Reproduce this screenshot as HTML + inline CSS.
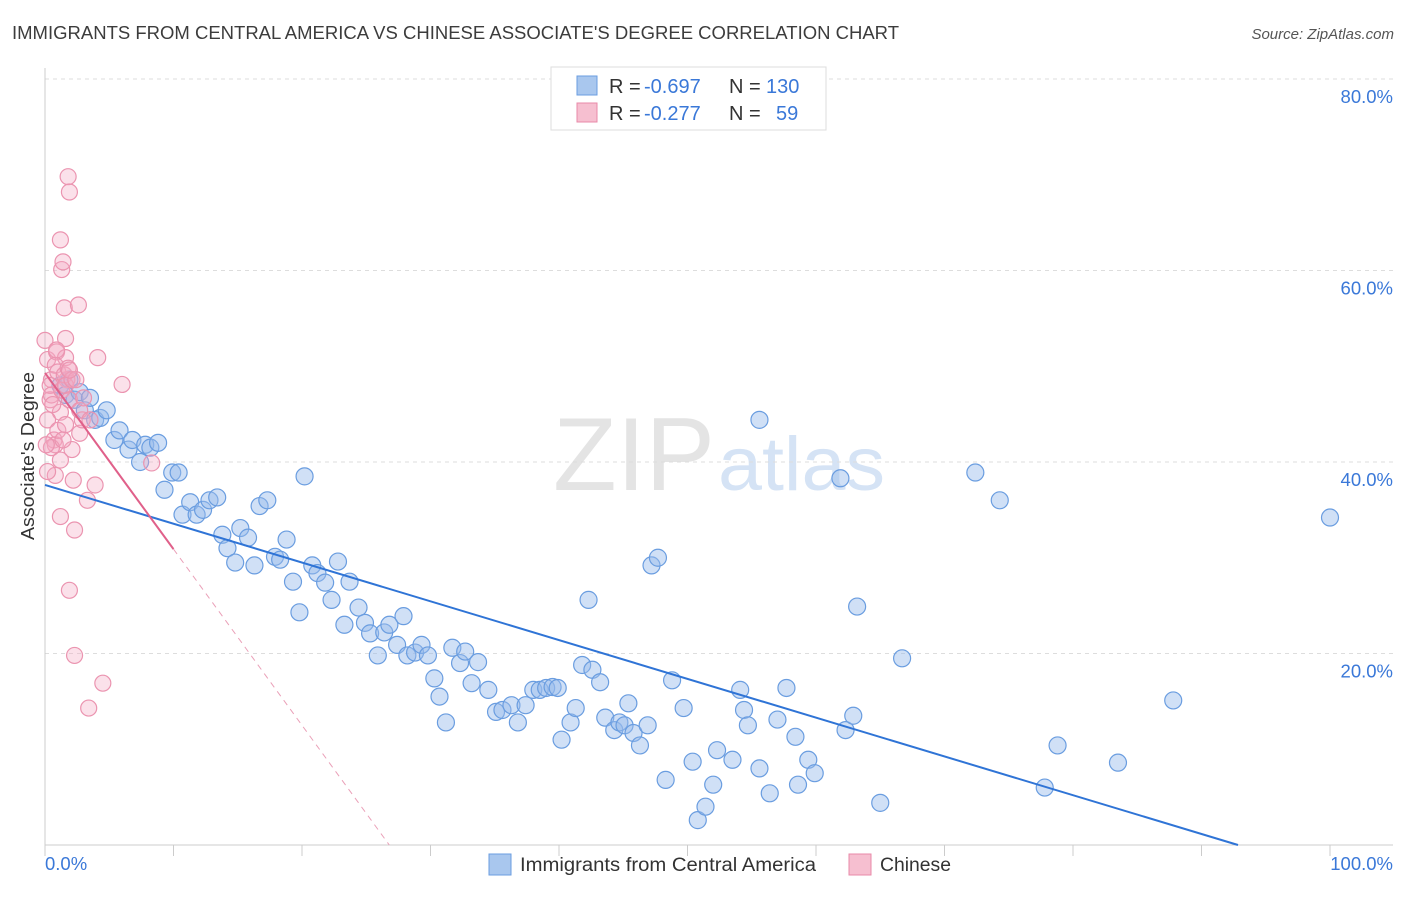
<!DOCTYPE html>
<html><head><meta charset="utf-8"><style>
body{margin:0;background:#fff;font-family:"Liberation Sans",sans-serif;}
svg text{font-family:"Liberation Sans",sans-serif;}
</style></head><body>
<svg id="chart" width="1406" height="892" xmlns="http://www.w3.org/2000/svg">
<text x="12" y="39" font-size="18" fill="#3c3c3c" textLength="887" lengthAdjust="spacingAndGlyphs">IMMIGRANTS FROM CENTRAL AMERICA VS CHINESE ASSOCIATE'S DEGREE CORRELATION CHART</text>
<text x="1394" y="39" font-size="15" fill="#555" font-style="italic" text-anchor="end">Source: ZipAtlas.com</text>
<g>
<text x="553" y="490" font-size="104" fill="#e4e4e4" font-family="Liberation Serif,serif" textLength="162" lengthAdjust="spacingAndGlyphs">ZIP</text>
<text x="718" y="490" font-size="76" fill="#d5e3f5" textLength="167" lengthAdjust="spacingAndGlyphs">atlas</text>
</g>
<g id="grid"></g>
<g id="axes"></g>
<g id="marks"></g>
<text transform="translate(34,456) rotate(-90)" font-size="18" fill="#333" text-anchor="middle" textLength="168" lengthAdjust="spacingAndGlyphs">Associate's Degree</text>
<g>
<rect x="551" y="67" width="275" height="63" fill="#fff" stroke="#ddd"/>
<rect x="577" y="76" width="20" height="19" fill="#a9c7ee" stroke="#6a9de0"/>
<rect x="577" y="103" width="20" height="19" fill="#f6bfd0" stroke="#e88aa8"/>
<g font-size="20">
<text x="609" y="93" fill="#333">R =</text>
<text x="644" y="93" fill="#3a78d8">-0.697</text>
<text x="729" y="93" fill="#333">N =</text>
<text x="766" y="93" fill="#3a78d8">130</text>
</g>
<g font-size="20">
<text x="609" y="120" fill="#333">R =</text>
<text x="644" y="120" fill="#3a78d8">-0.277</text>
<text x="729" y="120" fill="#333">N =</text>
<text x="776" y="120" fill="#3a78d8">59</text>
</g>
</g>
<g>
<rect x="489" y="854" width="22" height="21" fill="#a9c7ee" stroke="#6a9de0"/>
<text x="520" y="871" font-size="19" fill="#333" textLength="296" lengthAdjust="spacingAndGlyphs">Immigrants from Central America</text>
<rect x="849" y="854" width="22" height="21" fill="#f6bfd0" stroke="#e88aa8"/>
<text x="880" y="871" font-size="19" fill="#333" textLength="71" lengthAdjust="spacingAndGlyphs">Chinese</text>
</g>
</svg>
<script>
const yTicks=[20,40,60,80];
const yTickLabels=["20.0%","40.0%","60.0%","80.0%"];
const xTicks=[0,10,20,30,40,50,60,70,80,90,100];
const blueX=[1.2,1.6,1.9,2.3,2.7,3.1,3.5,3.9,4.3,4.8,5.4,5.8,6.5,6.8,7.4,7.8,8.2,8.8,9.3,9.9,10.4,10.7,11.3,11.8,12.3,12.8,13.4,13.8,14.2,14.8,15.2,15.8,16.3,16.7,17.3,17.9,18.3,18.8,19.3,19.8,20.2,20.8,21.2,21.8,22.3,22.8,23.3,23.7,24.4,24.9,25.3,25.9,26.4,26.8,27.4,27.9,28.2,28.8,29.3,29.8,30.3,30.7,31.2,31.7,32.3,32.7,33.2,33.7,34.5,35.1,35.6,36.3,36.8,37.4,38.0,38.5,39.0,39.5,39.9,40.2,40.9,41.3,41.8,42.3,42.6,43.2,43.6,44.3,44.7,45.1,45.4,45.8,46.3,46.9,47.2,47.7,48.3,48.8,49.7,50.4,50.8,51.4,52.0,52.3,53.5,54.1,54.4,54.7,55.6,55.6,56.4,57.0,57.7,58.4,58.6,59.4,59.9,61.9,62.3,62.9,63.2,65.0,66.7,72.4,74.3,77.8,78.8,83.5,87.8,100.0];
const blueY=[48.0,47.0,48.6,46.5,47.3,45.4,46.7,44.4,44.6,45.4,42.3,43.3,41.3,42.3,40.0,41.8,41.5,42.0,37.1,38.9,38.9,34.5,35.8,34.5,35.0,36.0,36.3,32.4,31.0,29.5,33.1,32.1,29.2,35.4,36.0,30.1,29.8,31.9,27.5,24.3,38.5,29.2,28.4,27.4,25.6,29.6,23.0,27.5,24.8,23.2,22.1,19.8,22.2,23.0,20.9,23.9,19.8,20.1,20.9,19.8,17.4,15.5,12.8,20.6,19.0,20.2,16.9,19.1,16.2,13.9,14.1,14.6,12.8,14.6,16.2,16.2,16.4,16.5,16.4,11.0,12.8,14.3,18.8,25.6,18.3,17.0,13.3,12.0,12.8,12.5,14.8,11.7,10.4,12.5,29.2,30.0,6.8,17.2,14.3,8.7,2.6,4.0,6.3,9.9,8.9,16.2,14.1,12.5,8.0,44.4,5.4,13.1,16.4,11.3,6.3,8.9,7.5,38.3,12.0,13.5,24.9,4.4,19.5,38.9,36.0,6.0,10.4,8.6,15.1,34.2];
const pinkX=[0.0,0.2,0.4,0.5,0.7,0.8,0.8,0.9,1.2,1.2,1.2,1.3,1.4,1.5,1.6,1.6,1.7,1.8,1.9,1.9,2.1,2.2,2.3,2.3,2.6,2.7,2.9,3.3,3.4,3.9,4.1,4.5,6.0,8.3,0.2,0.4,0.5,0.8,1.0,1.3,1.5,1.6,1.8,1.9,2.1,0.9,0.5,1.0,1.6,0.2,0.6,2.4,2.7,3.0,1.2,3.5,0.1,1.4,1.9];
const pinkY=[52.7,50.7,46.5,48.6,42.3,41.8,38.6,51.5,45.2,34.3,63.2,60.1,60.9,56.1,50.9,52.9,48.6,69.8,68.2,26.6,41.3,38.1,19.8,32.9,56.4,43.0,44.4,36.0,14.3,37.6,50.9,16.9,48.1,39.9,44.4,48.0,47.0,50.1,49.4,47.5,49.1,48.0,49.8,46.5,48.6,51.7,41.5,43.3,43.9,39.0,46.0,48.6,45.4,46.7,40.2,44.4,41.8,42.3,49.6];
const blueTrend=[37.6,-0.405];
const pinkTrend=[49.3,-1.84];
const pinkSolidEnd=10;

const NS="http://www.w3.org/2000/svg";
const X0=45,X1=1330,Y0=845,Y1=79;
const sx=v=>X0+(X1-X0)*v/100;
const sy=v=>Y0-(Y0-Y1)*v/80;
function mk(tag,attrs,parent){const e=document.createElementNS(NS,tag);for(const k in attrs)e.setAttribute(k,attrs[k]);parent.appendChild(e);return e;}
const grid=document.getElementById('grid'),axes=document.getElementById('axes'),marks=document.getElementById('marks');
yTicks.forEach((t,i)=>{
  const l=mk('line',{x1:X0,x2:1393,y1:sy(t),y2:sy(t),stroke:'#ddd','stroke-dasharray':'4,4'},grid);
  
  
  const tx=mk('text',{x:1393,y:sy(t)+24,'font-size':18.5,fill:'#3a78d8','text-anchor':'end'},axes);
  tx.textContent=yTickLabels[i];
  
  
});
const ax=mk('line',{x1:X0,x2:1393,y1:Y0,y2:Y0,stroke:'#ccc'},axes);


const ay=mk('line',{x1:X0,x2:X0,y1:68,y2:Y0,stroke:'#ccc'},axes);


xTicks.forEach(t=>{
  const l=mk('line',{x1:sx(t),x2:sx(t),y1:Y0,y2:Y0+11,stroke:'#ccc'},axes);
  
  
});
const xl0=mk('text',{x:45,y:870,'font-size':18.5,fill:'#3a78d8'},axes);xl0.textContent='0.0%';


const xl1=mk('text',{x:1393,y:870,'font-size':18.5,fill:'#3a78d8','text-anchor':'end'},axes);xl1.textContent='100.0%';



blueX.forEach((v,i)=>{
  const c=mk('circle',{cx:sx(v),cy:sy(blueY[i]),r:8.5,fill:'rgba(150,186,236,0.45)',stroke:'#6a9de0','stroke-width':1.2},marks);
  
  
});
pinkX.forEach((v,i)=>{
  const c=mk('circle',{cx:sx(v),cy:sy(pinkY[i]),r:8,fill:'rgba(244,170,195,0.35)',stroke:'#eb94b0','stroke-width':1.2},marks);
  
  
});
const bEnd=-blueTrend[0]/blueTrend[1];
const bl=mk('line',{x1:sx(0),y1:sy(blueTrend[0]),x2:sx(bEnd),y2:sy(0),stroke:'#2f74d6','stroke-width':2},marks);


const pEnd=-pinkTrend[0]/pinkTrend[1];
const pl=mk('line',{x1:sx(0),y1:sy(pinkTrend[0]),x2:sx(pinkSolidEnd),y2:sy(pinkTrend[0]+pinkTrend[1]*pinkSolidEnd),stroke:'#e0608a','stroke-width':2},marks);


const pd=mk('line',{x1:sx(pinkSolidEnd),y1:sy(pinkTrend[0]+pinkTrend[1]*pinkSolidEnd),x2:sx(pEnd),y2:sy(0),stroke:'#eaa0b8','stroke-width':1,'stroke-dasharray':'6,5'},marks);


</script>
</body></html>
